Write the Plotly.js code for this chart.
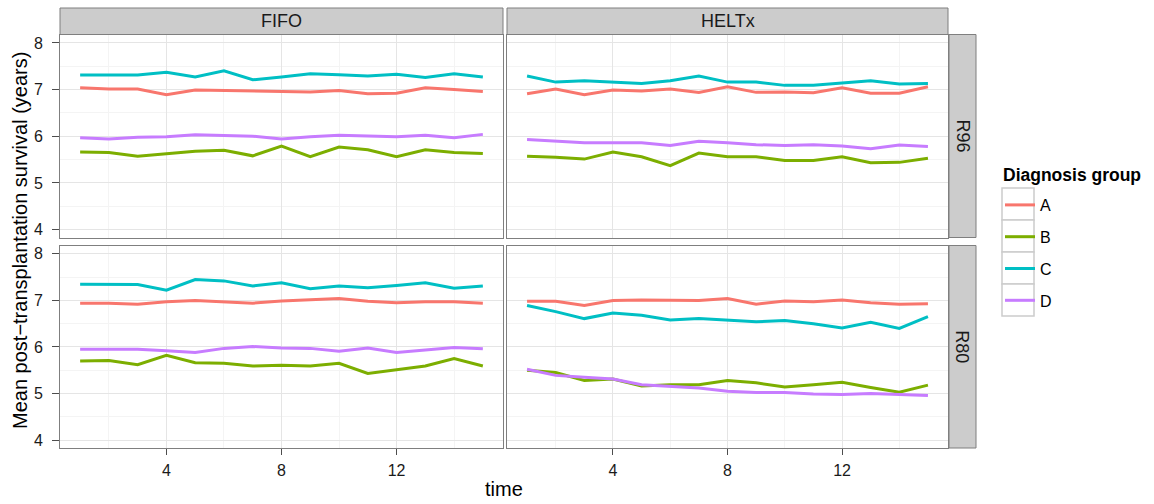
<!DOCTYPE html>
<html>
<head>
<meta charset="utf-8">
<script src="https://cdn.plot.ly/plotly-3.0.1.min.js"></script>
<style>html,body{margin:0;padding:0;background:#fff}#chart{width:1154px;height:504px}</style>
</head>
<body>
<div id="chart"></div>
<script>
// ---- data ----
const time = [1, 2, 3, 4, 5, 6, 7, 8, 9, 10, 11, 12, 13, 14, 15];
const groups = ["A", "B", "C", "D"];
const schemes = ["FIFO", "HELTx"];
const rules = ["R96", "R80"];

// FIFO / R96
const fifo_r96_A = [7.04, 7.01, 7.01, 6.89, 6.99, 6.98, 6.96, 6.96, 6.95, 6.98, 6.91, 6.92, 7.04, 7.00, 6.96];
const fifo_r96_B = [5.66, 5.65, 5.57, 5.63, 5.68, 5.70, 5.58, 5.79, 5.56, 5.77, 5.71, 5.56, 5.71, 5.65, 5.63];
const fifo_r96_C = [7.31, 7.31, 7.31, 7.37, 7.27, 7.40, 7.21, 7.27, 7.34, 7.32, 7.29, 7.33, 7.26, 7.34, 7.27];
const fifo_r96_D = [5.97, 5.94, 5.98, 5.99, 6.03, 6.01, 6.00, 5.94, 5.99, 6.02, 6.00, 5.99, 6.02, 5.97, 6.04];
// HELTx / R96
const heltx_r96_A = [6.91, 7.01, 6.89, 6.99, 6.97, 7.01, 6.94, 7.06, 6.94, 6.95, 6.93, 7.04, 6.92, 6.92, 7.06];
const heltx_r96_B = [5.57, 5.55, 5.51, 5.66, 5.56, 5.37, 5.64, 5.56, 5.56, 5.48, 5.48, 5.56, 5.43, 5.44, 5.53];
const heltx_r96_C = [7.29, 7.16, 7.19, 7.16, 7.13, 7.19, 7.29, 7.16, 7.16, 7.09, 7.09, 7.14, 7.19, 7.12, 7.13];
const heltx_r96_D = [5.93, 5.89, 5.86, 5.86, 5.86, 5.80, 5.89, 5.86, 5.82, 5.80, 5.82, 5.79, 5.73, 5.81, 5.78];
// FIFO / R80
const fifo_r80_A = [6.94, 6.94, 6.92, 6.97, 7.00, 6.97, 6.94, 6.99, 7.01, 7.04, 6.98, 6.95, 6.97, 6.97, 6.94];
const fifo_r80_B = [5.70, 5.71, 5.62, 5.82, 5.66, 5.65, 5.59, 5.61, 5.59, 5.65, 5.43, 5.51, 5.59, 5.75, 5.59];
const fifo_r80_C = [7.35, 7.35, 7.34, 7.22, 7.45, 7.42, 7.31, 7.38, 7.25, 7.31, 7.27, 7.32, 7.38, 7.26, 7.31];
const fifo_r80_D = [5.95, 5.95, 5.95, 5.92, 5.88, 5.97, 6.01, 5.98, 5.97, 5.91, 5.98, 5.88, 5.93, 5.99, 5.96];
// HELTx / R80
const heltx_r80_A = [6.98, 6.98, 6.89, 7.00, 7.01, 7.01, 7.00, 7.04, 6.92, 6.99, 6.97, 7.01, 6.95, 6.92, 6.93];
const heltx_r80_B = [5.50, 5.45, 5.28, 5.31, 5.16, 5.19, 5.19, 5.28, 5.23, 5.14, 5.19, 5.24, 5.13, 5.03, 5.18];
const heltx_r80_C = [6.89, 6.76, 6.61, 6.73, 6.68, 6.58, 6.61, 6.58, 6.54, 6.57, 6.50, 6.41, 6.53, 6.40, 6.65];
const heltx_r80_D = [5.52, 5.39, 5.35, 5.31, 5.19, 5.15, 5.12, 5.05, 5.02, 5.02, 4.99, 4.98, 5.00, 4.98, 4.96];

const xTicks = [4, 8, 12];
const yTicks = [4, 5, 6, 7, 8];
const legendTitle = "Diagnosis group";
const xTitle = "time";
const yTitle = "Mean post\u2212transplantation survival (years)";

// ---- panels ----
const panels = [
  {scheme: "FIFO",  rule: "R96", col: 0, row: 0, series: [fifo_r96_A, fifo_r96_B, fifo_r96_C, fifo_r96_D]},
  {scheme: "HELTx", rule: "R96", col: 1, row: 0, series: [heltx_r96_A, heltx_r96_B, heltx_r96_C, heltx_r96_D]},
  {scheme: "FIFO",  rule: "R80", col: 0, row: 1, series: [fifo_r80_A, fifo_r80_B, fifo_r80_C, fifo_r80_D]},
  {scheme: "HELTx", rule: "R80", col: 1, row: 1, series: [heltx_r80_A, heltx_r80_B, heltx_r80_C, heltx_r80_D]}
];

// ---- styling / geometry ----
const W = 1154, H = 504;
const colors = ["#F8766D", "#7CAE00", "#00BFC4", "#C77CFF"];
const FONT = "Liberation Sans, Arial, Helvetica, sans-serif";
const px = v => v / W;
const py = v => 1 - v / H;
const colX = [[60, 503], [507, 948]];
const rowY = [[34.5, 237.5], [245.5, 448]];
const stripTop = [8, 34.5];
const stripRight = [949, 976];
const borderCol = "#7f7f7f";

const traces = [];
const layout = {
  width: W, height: H,
  margin: {l: 0, r: 0, t: 0, b: 0},
  paper_bgcolor: "#ffffff",
  plot_bgcolor: "#ffffff",
  font: {family: FONT, color: "#000000"},
  showlegend: true,
  legend: {
    x: px(1000), y: py(188), xanchor: "left", yanchor: "top",
    font: {size: 16, family: FONT, color: "#000"},
    traceorder: "grouped",
    tracegroupgap: 8,
    bgcolor: "rgba(0,0,0,0)",
    borderwidth: 0
  },
  shapes: [],
  annotations: []
};

panels.forEach((p, i) => {
  const n = i + 1;
  const xa = "xaxis" + (n === 1 ? "" : n);
  const ya = "yaxis" + (n === 1 ? "" : n);
  const xr = "x" + (n === 1 ? "" : n);
  const yr = "y" + (n === 1 ? "" : n);
  const bottom = p.row === 1;
  const left = p.col === 0;
  layout[xa] = {
    domain: [px(colX[p.col][0]), px(colX[p.col][1])],
    anchor: yr,
    range: [0.3, 15.7],
    tickvals: xTicks,
    showticklabels: bottom,
    ticks: bottom ? "outside" : "",
    ticklen: 6, tickcolor: "#4d4d4d", tickwidth: 1,
    ticklabelstandoff: 2,
    tickfont: {size: 16, family: FONT, color: "#1a1a1a"},
    showgrid: true, gridcolor: "#e5e5e5", gridwidth: 1,
    minor: {dtick: 2, tick0: 0, showgrid: true, gridcolor: "#f4f4f4", gridwidth: 1, ticks: ""},
    zeroline: false,
    showline: true, mirror: true, linecolor: borderCol, linewidth: 1
  };
  layout[ya] = {
    domain: [py(rowY[p.row][1]), py(rowY[p.row][0])],
    anchor: xr,
    range: [3.83, 8.18],
    tickvals: yTicks,
    showticklabels: left,
    ticks: left ? "outside" : "",
    ticklen: 7, tickcolor: "#4d4d4d", tickwidth: 1,
    ticklabelstandoff: 6,
    tickfont: {size: 16, family: FONT, color: "#1a1a1a"},
    showgrid: true, gridcolor: "#e5e5e5", gridwidth: 1,
    minor: {dtick: 0.5, tick0: 0, showgrid: true, gridcolor: "#f4f4f4", gridwidth: 1, ticks: ""},
    zeroline: false,
    showline: true, mirror: true, linecolor: borderCol, linewidth: 1
  };
  p.series.forEach((vals, g) => {
    traces.push({
      type: "scatter", mode: "lines",
      x: time, y: vals,
      xaxis: xr, yaxis: yr,
      name: groups[g],
      legendgroup: groups[g],
      showlegend: i === 0,
      line: {color: colors[g], width: 3}
    });
  });
});

// top strips
schemes.forEach((s, c) => {
  layout.shapes.push({type: "rect", xref: "paper", yref: "paper",
    x0: px(colX[c][0]), x1: px(colX[c][1]), y0: py(stripTop[1]), y1: py(stripTop[0]),
    fillcolor: "#cccccc", line: {color: borderCol, width: 1}, layer: "below"});
  layout.annotations.push({xref: "paper", yref: "paper",
    x: px((colX[c][0] + colX[c][1]) / 2), y: py((stripTop[0] + stripTop[1]) / 2),
    text: s, showarrow: false, xanchor: "center", yanchor: "middle",
    font: {size: 18, family: FONT, color: "#1a1a1a"}});
});
// right strips
rules.forEach((r, rw) => {
  layout.shapes.push({type: "rect", xref: "paper", yref: "paper",
    x0: px(stripRight[0]), x1: px(stripRight[1]), y0: py(rowY[rw][1]), y1: py(rowY[rw][0]),
    fillcolor: "#cccccc", line: {color: borderCol, width: 1}, layer: "below"});
  layout.annotations.push({xref: "paper", yref: "paper",
    x: px((stripRight[0] + stripRight[1]) / 2), y: py((rowY[rw][0] + rowY[rw][1]) / 2),
    text: r, showarrow: false, textangle: 90, xanchor: "center", yanchor: "middle",
    font: {size: 18, family: FONT, color: "#1a1a1a"}});
});

// legend title and key boxes
layout.annotations.push({xref: "paper", yref: "paper", x: px(1001), y: py(175),
  text: "<b>" + legendTitle + "</b>", showarrow: false, xanchor: "left", yanchor: "middle",
  font: {size: 17.5, family: FONT, color: "#000"}});
for (let k = 0; k < groups.length; k++) {
  layout.shapes.push({type: "rect", xref: "paper", yref: "paper",
    x0: px(1002), x1: px(1034), y0: py(188 + 32 * (k + 1)), y1: py(188 + 32 * k),
    fillcolor: "#ffffff", line: {color: "#cccccc", width: 1.5}, layer: "below"});
}

// axis titles
layout.annotations.push({xref: "paper", yref: "paper", x: px(504), y: py(489),
  text: xTitle, showarrow: false, xanchor: "center", yanchor: "middle",
  font: {size: 20, family: FONT, color: "#000"}});
layout.annotations.push({xref: "paper", yref: "paper", x: px(20), y: py(241),
  text: yTitle, showarrow: false, textangle: -90, xanchor: "center", yanchor: "middle",
  font: {size: 20, family: FONT, color: "#000"}});

Plotly.newPlot("chart", traces, layout, {staticPlot: true, displayModeBar: false});
</script>
</body>
</html>
